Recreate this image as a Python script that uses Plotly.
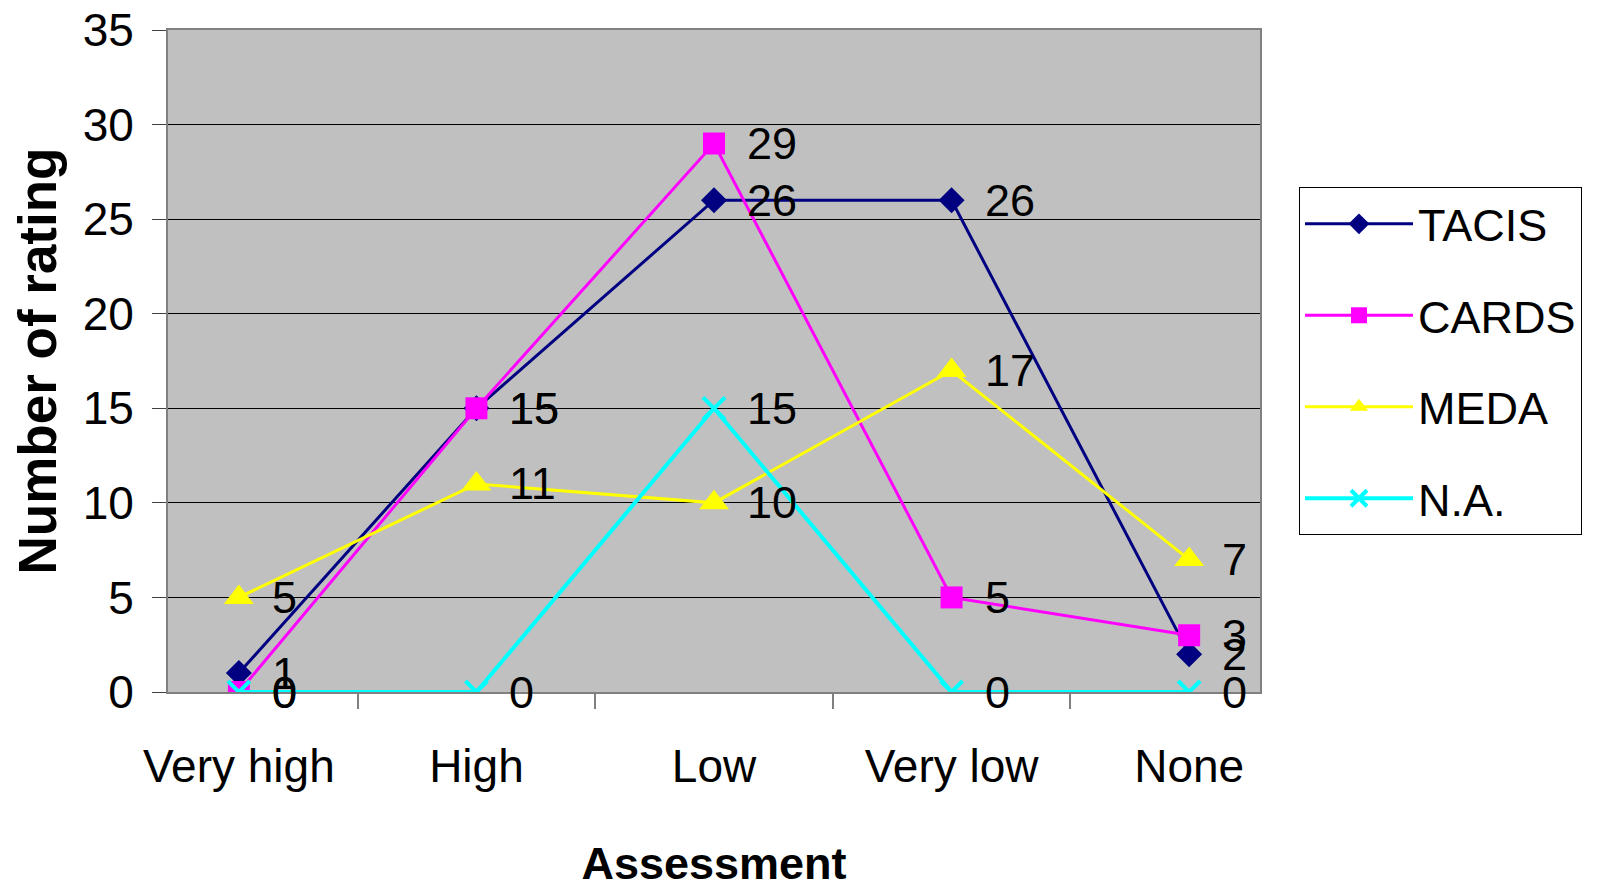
import plotly.graph_objects as go

categories = ["Very high", "High", "Low", "Very low", "None"]
tacis = [1, 15, 26, 26, 2]
cards = [0, 15, 29, 5, 3]
meda = [5, 11, 10, 17, 7]
na = [0, 0, 15, 0, 0]

series = [
    ("TACIS", tacis, "#000080", "diamond", 20, 3),
    ("CARDS", cards, "#FF00FF", "square", 22, 3),
    ("MEDA", meda, "#FFFF00", "triangle-up", 26, 3),
    ("N.A.", na, "#00FFFF", "x-thin", 22, 4),
]

FONT = "Liberation Sans, Arial, sans-serif"
FS = 45

fig = go.Figure()
annotations = []
for name, vals, color, sym, size, lw in series:
    marker = dict(symbol=sym, size=size, color=color)
    if sym == "x-thin":
        marker["line"] = dict(color=color, width=4)
    fig.add_trace(go.Scatter(
        x=categories, y=vals, name=name, mode="lines+markers",
        line=dict(color=color, width=lw), marker=marker,
        legendgroup=name,
    ))
    for c, v in zip(categories, vals):
        annotations.append(dict(
            x=c, y=v, text=str(v), showarrow=False, xanchor="left", yanchor="middle",
            xshift=31, font=dict(family=FONT, size=FS, color="black"),
        ))

fig.update_layout(
    width=1597, height=887,
    margin=dict(l=160, r=345, t=22, b=203, autoexpand=False),
    paper_bgcolor="white", plot_bgcolor="#C0C0C0",
    font=dict(family=FONT, size=FS, color="black"),
    showlegend=True,
    legend=dict(
        x=1.0357, y=0.7628, xanchor="left", yanchor="top",
        bgcolor="white", bordercolor="black", borderwidth=1,
        font=dict(family=FONT, size=FS, color="black"),
        itemwidth=108, tracegroupgap=30, traceorder="grouped",
    ),
    annotations=annotations,
)
fig.update_xaxes(
    type="category", tickson="boundaries", ticks="outside", ticklen=15,
    tickcolor="#808080", tickwidth=2, showgrid=False,
    showline=True, linecolor="#808080", linewidth=2, mirror=True,
    tickfont=dict(family=FONT, size=46), ticklabelstandoff=33,
    title=dict(text="<b>Assessment</b>", font=dict(family=FONT, size=45), standoff=56),
)
fig.update_yaxes(
    range=[0, 35], dtick=5, ticks="outside", ticklen=14, tickcolor="#404040",
    showgrid=True, gridcolor="black", gridwidth=1, zeroline=False,
    showline=True, linecolor="#808080", linewidth=2, mirror=True,
    tickfont=dict(family=FONT, size=46), ticklabelstandoff=9,
    ticklabeloverflow="allow",
    title=dict(text="<b>Number of rating</b>", font=dict(family=FONT, size=53), standoff=24),
)

fig.write_html("out.html")
